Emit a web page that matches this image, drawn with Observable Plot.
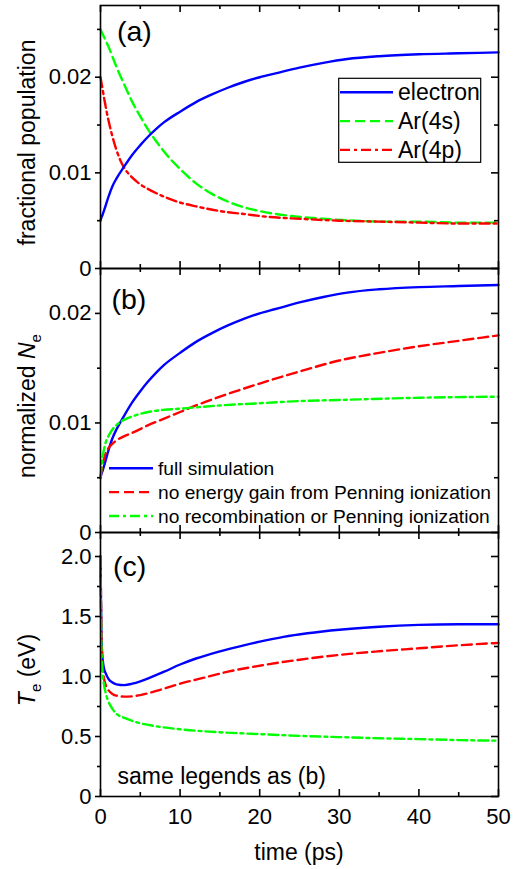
<!DOCTYPE html>
<html><head><meta charset="utf-8">
<script src="https://cdn.jsdelivr.net/npm/d3@7"></script>
<script src="https://cdn.jsdelivr.net/npm/@observablehq/plot@0.6"></script>
<style>
body{margin:0;background:#fff}
#wrap{position:relative;width:527px;height:869px;font-family:'Liberation Sans',Arial,sans-serif}
</style>
</head><body><div id="wrap"></div>
<script>
// ---- ticks ----
const xMajor = [0, 10, 20, 30, 40, 50];
const xMajorLabels = ["0", "10", "20", "30", "40", "50"];
const xMinor = [5, 15, 25, 35, 45];
const yMajorN = [0, 0.01, 0.02];
const yMajorNLabels = ["0", "0.01", "0.02"];
const yMinorN = [0.005, 0.015, 0.025];
const yMajorT = [0, 0.5, 1, 1.5, 2];
const yMajorTLabels = ["0", "0.5", "1.0", "1.5", "2.0"];
const yMinorT = [0.25, 0.75, 1.25, 1.75];

// ---- panel (a): fractional population ----
const tElectron = [0, 0.1, 0.25, 0.5, 1, 1.5, 2, 3, 4, 5, 6, 7, 8, 10, 12, 14, 16, 18, 20, 22, 25, 28, 31, 35, 40, 45, 50];
const electron  = [0.0050, 0.0053, 0.0056, 0.0062, 0.0075, 0.0086, 0.0094, 0.0107, 0.0119, 0.0129, 0.0138, 0.0146, 0.0153, 0.0164, 0.0174, 0.0182, 0.0189, 0.0195, 0.0200, 0.0204, 0.0210, 0.0215, 0.0219, 0.0222, 0.0224, 0.0225, 0.0226];
const tAr4s = [0, 0.5, 1, 2, 3, 4, 5, 6, 7, 8, 10, 12, 14, 16, 18, 20, 22, 25, 28, 32, 36, 40, 45, 50];
const ar4s  = [0.0250, 0.0241, 0.0232, 0.0211, 0.0192, 0.0174, 0.0159, 0.0145, 0.0133, 0.0122, 0.0104, 0.0089, 0.0078, 0.0070, 0.0064, 0.0060, 0.0057, 0.0054, 0.0052, 0.0050, 0.0049, 0.0049, 0.0048, 0.0048];
const tAr4p = [0, 0.25, 0.5, 1, 1.5, 2, 2.5, 3, 4, 5, 6, 8, 10, 12, 15, 18, 21, 25, 30, 35, 40, 45, 50];
const ar4p  = [0.0200, 0.0188, 0.0176, 0.0155, 0.0138, 0.0124, 0.0113, 0.0105, 0.0095, 0.0088, 0.0083, 0.0075, 0.0069, 0.0065, 0.0060, 0.0057, 0.0054, 0.0052, 0.0050, 0.0049, 0.0048, 0.0047, 0.0047];

// ---- panel (b): normalized Ne ----
const tNoGain = [0, 0.2, 0.5, 1, 1.5, 2, 3, 4, 6, 8, 10, 12, 15, 20, 25, 30, 35, 40, 45, 50];
const neNoGain = [0.0050, 0.0060, 0.0069, 0.0077, 0.0081, 0.0084, 0.0088, 0.0091, 0.0098, 0.0104, 0.0110, 0.0116, 0.0124, 0.0136, 0.0147, 0.0157, 0.0164, 0.0170, 0.0175, 0.0180];
const tNoRec = [0, 0.2, 0.5, 1, 1.5, 2, 3, 4, 6, 8, 10, 15, 20, 25, 30, 40, 50];
const neNoRec = [0.0050, 0.0065, 0.0078, 0.0088, 0.0094, 0.0098, 0.0103, 0.0106, 0.0110, 0.0112, 0.0113, 0.0116, 0.0118, 0.0120, 0.0121, 0.0123, 0.0124];

// ---- panel (c): Te ----
const tTeFull = [0, 0.05, 0.1, 0.2, 0.4, 0.7, 1, 1.5, 2, 3, 4, 5, 6, 8, 10, 12, 15, 18, 20, 23, 26, 30, 35, 40, 45, 50];
const teFull  = [2.00, 1.70, 1.42, 1.20, 1.08, 1.02, 0.98, 0.95, 0.935, 0.928, 0.94, 0.96, 0.985, 1.04, 1.10, 1.15, 1.21, 1.26, 1.29, 1.33, 1.36, 1.39, 1.415, 1.43, 1.435, 1.435];
const tTeNoGain = [0, 0.05, 0.1, 0.2, 0.4, 0.7, 1, 1.5, 2, 3, 4, 5, 7, 10, 13, 16, 20, 25, 30, 35, 40, 45, 50];
const teNoGain  = [2.00, 1.70, 1.40, 1.15, 1.00, 0.92, 0.885, 0.855, 0.84, 0.832, 0.835, 0.845, 0.88, 0.94, 0.99, 1.04, 1.09, 1.14, 1.18, 1.21, 1.235, 1.26, 1.28];
const tTeNoRec = [0, 0.05, 0.1, 0.2, 0.4, 0.7, 1, 1.5, 2, 3, 4, 5, 7, 10, 15, 20, 25, 30, 35, 40, 45, 50];
const teNoRec  = [2.00, 1.60, 1.30, 1.08, 0.95, 0.85, 0.79, 0.73, 0.69, 0.655, 0.63, 0.61, 0.585, 0.56, 0.535, 0.52, 0.505, 0.495, 0.485, 0.478, 0.47, 0.465];

const BLUE = "#0000ff", GREEN = "#00ff00", RED = "#ff0000";
const DASH = "10,5", DASHDOT = "10,4,3,4";
const FONT = "'Liberation Sans', Arial, sans-serif";
const W = 527, H = 869, ML = 100, MR = 29;

const wrap = document.getElementById("wrap");
const master = d3.select(wrap).append("svg")
  .attr("width", W).attr("height", H).attr("viewBox", `0 0 ${W} ${H}`)
  .attr("font-family", FONT).attr("font-size", 22).attr("fill", "black")
  .style("position", "absolute").style("left", "0px").style("top", "0px").style("overflow", "visible");

function panel({top, height, marginTop, marginBottom, yDomain, yMajor, yLabels, yMinor, series, showX}) {
  const innerH = height - marginTop - marginBottom;
  const innerW = W - ML - MR;
  const yFmt = new Map(yMajor.map((v, i) => [v, yLabels[i]]));
  const xFmt = new Map(xMajor.map((v, i) => [v, xMajorLabels[i]]));
  const blank = () => "";
  const marks = series.map(s => Plot.line(s.t.map((t, i) => ({t, v: s.v[i]})), {
    x: "t", y: "v", stroke: s.color, strokeWidth: 2.4, strokeDasharray: s.dash, curve: "monotone-x"
  }));
  const tk = {stroke: "black", strokeWidth: 1.6};
  marks.push(
    // inward ticks: bottom, top, right
    Plot.ruleX(xMajor, {...tk, x: d => d, insetTop: innerH - 7}),
    Plot.ruleX(xMinor, {...tk, x: d => d, insetTop: innerH - 4}),
    Plot.ruleX(xMajor, {...tk, x: d => d, insetBottom: innerH - 7}),
    Plot.ruleX(xMinor, {...tk, x: d => d, insetBottom: innerH - 4}),
    Plot.ruleY(yMajor, {...tk, y: d => d, insetLeft: innerW - 7}),
    Plot.ruleY(yMinor, {...tk, y: d => d, insetLeft: innerW - 4}),
    // outward left ticks + labels
    Plot.axisY(yMajor, {anchor: "left", tickSize: 5, tickPadding: 4, strokeWidth: 1.6, stroke: "black", fill: "black",
      fontSize: 22, label: null, tickFormat: d => yFmt.get(d)}),
    Plot.axisY(yMinor, {anchor: "left", tickSize: 3, strokeWidth: 1.6, stroke: "black", label: null, tickFormat: blank}),
    Plot.axisX(xMajor, {anchor: "bottom", tickSize: 0, tickPadding: 12, fill: "black", fontSize: 22, label: null,
      textAnchor: "middle", tickFormat: showX ? (d => xFmt.get(d)) : blank}),
    Plot.frame({stroke: "black", strokeWidth: 1.6})
  );
  const svg = Plot.plot({
    width: W, height, marginLeft: ML, marginRight: MR, marginTop, marginBottom,
    x: {domain: [0, 50], label: null},
    y: {domain: yDomain, label: null},
    style: {fontFamily: FONT, fontSize: "22px", background: "transparent", color: "black"},
    marks
  });
  // move the rendered panel into the single page SVG, keeping Plot's root text defaults
  const g = master.append("g").attr("transform", `translate(0,${top})`)
    .attr("text-anchor", "middle").attr("font-size", 22).attr("font-family", FONT).node();
  for (const child of Array.from(svg.childNodes)) g.appendChild(child);
}

panel({top: 0, height: 273, marginTop: 5, marginBottom: 5, yDomain: [0, 0.0275],
  yMajor: yMajorN, yLabels: yMajorNLabels, yMinor: yMinorN, showX: false,
  series: [
    {t: tAr4s, v: ar4s, color: GREEN, dash: DASH},
    {t: tAr4p, v: ar4p, color: RED, dash: DASHDOT},
    {t: tElectron, v: electron, color: BLUE, dash: null}
  ]});

panel({top: 263, height: 274, marginTop: 5, marginBottom: 5, yDomain: [0, 0.0241],
  yMajor: yMajorN, yLabels: yMajorNLabels, yMinor: yMinorN.slice(0, 2), showX: false,
  series: [
    {t: tElectron, v: electron, color: BLUE, dash: null},
    {t: tNoGain, v: neNoGain, color: RED, dash: DASH},
    {t: tNoRec, v: neNoRec, color: GREEN, dash: DASHDOT}
  ]});

panel({top: 527, height: 342, marginTop: 5, marginBottom: 73, yDomain: [0, 2.2],
  yMajor: yMajorT, yLabels: yMajorTLabels, yMinor: yMinorT, showX: true,
  series: [
    {t: tTeFull, v: teFull, color: BLUE, dash: null},
    {t: tTeNoGain, v: teNoGain, color: RED, dash: DASH},
    {t: tTeNoRec, v: teNoRec, color: GREEN, dash: DASHDOT}
  ]});

// ---- annotations ----
const ov = master.append("g").attr("text-anchor", "start");

function rotLabel(x, y, parts) {
  const t = ov.append("text").attr("transform", `translate(${x},${y}) rotate(-90)`)
    .attr("text-anchor", "middle").attr("font-size", 23).attr("fill", "black");
  for (const p of parts) {
    const s = t.append("tspan").text(p.text);
    if (p.italic) s.attr("font-style", "italic");
    if (p.dy) s.attr("dy", p.dy);
    if (p.size) s.attr("font-size", p.size);
  }
}
rotLabel(34.5, 142.5, [{text: "fractional population"}]);
rotLabel(34.5, 406, [{text: "normalized "}, {text: "N", italic: true}, {text: "e", dy: 6, size: 15}]);
rotLabel(34.5, 670, [{text: "T", italic: true}, {text: "e", dy: 6, size: 15}, {text: " (eV)", dy: -6}]);

ov.append("text").attr("x", 299).attr("y", 860).attr("text-anchor", "middle")
  .attr("font-size", 23).text("time (ps)");

const panelLabels = [["(a)", 117, 41], ["(b)", 111.5, 309], ["(c)", 113, 576]];
for (const [s, x, y] of panelLabels) ov.append("text").attr("x", x).attr("y", y).attr("font-size", 28.5).text(s);

// legend (a)
const legA = [["electron", BLUE, null], ["Ar(4s)", GREEN, DASH], ["Ar(4p)", RED, DASHDOT]];
ov.append("rect").attr("x", 338.7).attr("y", 78.3).attr("width", 142).attr("height", 84)
  .attr("fill", "white").attr("stroke", "black").attr("stroke-width", 1.2);
legA.forEach(([s, c, d], i) => {
  const yy = 92.3 + i * 28.8;
  ov.append("line").attr("x1", 340).attr("x2", 393).attr("y1", yy).attr("y2", yy)
    .attr("stroke", c).attr("stroke-width", 2.4).attr("stroke-dasharray", d);
  ov.append("text").attr("x", 398).attr("y", yy + 7.8).attr("font-size", 23).text(s);
});

// legend (b)
const legB = [["full simulation", BLUE, null], ["no energy gain from Penning ionization", RED, DASH], ["no recombination or Penning ionization", GREEN, DASHDOT]];
legB.forEach(([s, c, d], i) => {
  const yy = 468.3 + i * 23.85;
  ov.append("line").attr("x1", 109).attr("x2", 153).attr("y1", yy).attr("y2", yy)
    .attr("stroke", c).attr("stroke-width", 2.4).attr("stroke-dasharray", d);
  ov.append("text").attr("x", 158).attr("y", yy + 7).attr("font-size", 19.2).text(s);
});

ov.append("text").attr("x", 117.5).attr("y", 784).attr("font-size", 23).text("same legends as (b)");
</script></body></html>
